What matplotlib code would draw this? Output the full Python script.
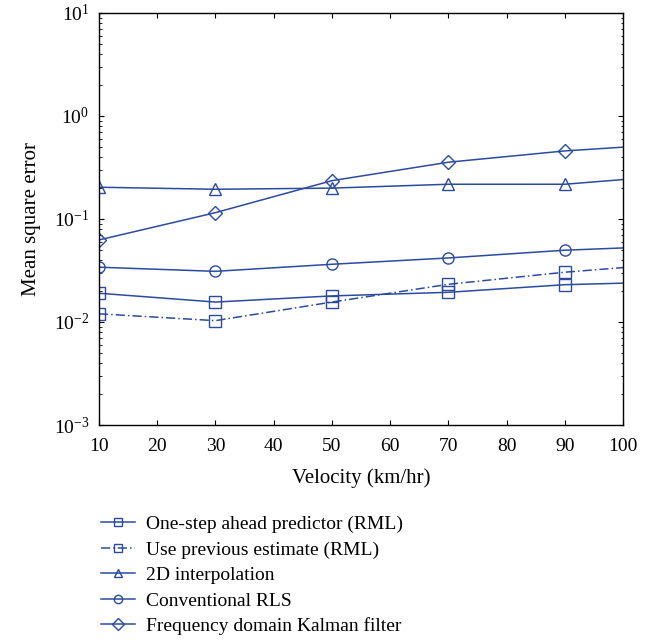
import matplotlib
matplotlib.use("Agg")
import matplotlib.pyplot as plt
from matplotlib.ticker import LogLocator, NullFormatter

plt.rcParams['font.family'] = ['Liberation Serif', 'DejaVu Serif']
plt.rcParams['mathtext.fontset'] = 'stix'

velocity = [10, 30, 50, 70, 90, 100]
one_step = [0.019, 0.0156, 0.0179, 0.0194, 0.023, 0.0238]
prev_est = [0.0120, 0.0103, 0.0156, 0.0232, 0.0304, 0.0337]
interp2d = [0.203, 0.194, 0.199, 0.217, 0.217, 0.241]
conv_rls = [0.034, 0.031, 0.0363, 0.0418, 0.0497, 0.0523]
kalman = [0.0625, 0.115, 0.235, 0.355, 0.457, 0.497]
labels = ["One-step ahead predictor (RML)", "Use previous estimate (RML)",
          "2D interpolation", "Conventional RLS", "Frequency domain Kalman filter"]

color = '#2b4ba0'
fig = plt.figure(figsize=(6.51, 6.42), dpi=100)
ax = fig.add_axes([0.152, 0.338, 0.805, 0.642])

series = [(one_step, 's', '-'), (prev_est, 's', (0, (6, 2, 1, 2))),
          (interp2d, '^', '-'), (conv_rls, 'o', '-'), (kalman, 'D', '-')]
for (vals, mk, ls), lab in zip(series, labels):
    ms = 8 if mk != 'D' else 7
    ax.plot(velocity, vals, color=color, linestyle=ls, linewidth=1.1,
            marker=mk, markersize=ms, markerfacecolor='none',
            markeredgecolor=color, markeredgewidth=1.0,
            markevery=[0, 1, 2, 3, 4], label=lab)

ax.set_yscale('log')
ax.set_xlim(10, 100)
ax.set_ylim(1e-3, 1e1)
ax.set_xticks(range(10, 101, 10))
ax.yaxis.set_major_locator(LogLocator(base=10, numticks=10))
ax.yaxis.set_minor_locator(LogLocator(base=10, subs=range(2, 10), numticks=10))
ax.yaxis.set_minor_formatter(NullFormatter())
ax.tick_params(which='both', direction='in', right=True, top=True, labelsize=14)
ax.tick_params(which='major', length=3.5)
ax.tick_params(which='minor', length=1.8)
ax.tick_params(axis='x', which='major', pad=9)
ax.tick_params(axis='y', which='major', pad=7)
for s in ax.spines.values():
    s.set_linewidth(1.0)
ax.set_xlabel('Velocity (km/hr)', fontsize=15, labelpad=10)
ax.set_ylabel('Mean square error', fontsize=15, labelpad=9)

leg = fig.legend(loc='upper left', bbox_to_anchor=(0.1275, 0.224), frameon=False,
                 fontsize=14, handlelength=1.75, labelspacing=0.4,
                 handletextpad=0.6)
for h in leg.legend_handles:
    h.set_markersize(6)

fig.savefig('out.png', dpi=100)
